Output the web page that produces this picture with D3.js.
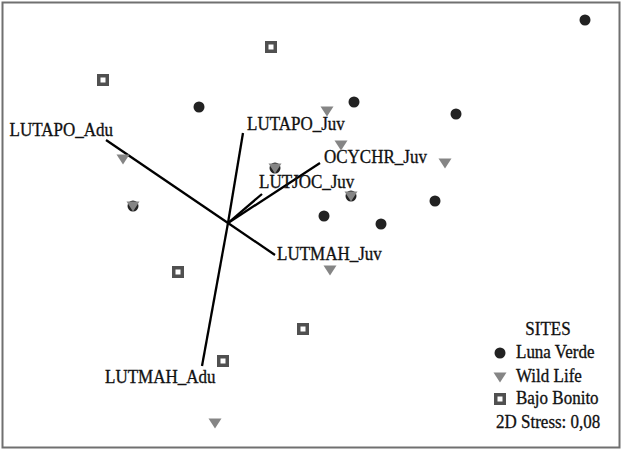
<!DOCTYPE html>
<html>
<head>
<meta charset="utf-8">
<script src="https://cdn.jsdelivr.net/npm/d3@7"></script>
<style>
  html, body { margin: 0; padding: 0; background: #fff; }
  svg { display: block; }
  text { font-family: "Liberation Serif", "Times New Roman", serif; fill: #111; stroke: #111; stroke-width: 0.3px; }
</style>
</head>
<body>
<svg id="chart" width="624" height="452"></svg>
<script>
// NMDS site scores (axis 1, axis 2)
const lunaVerdeX = [3.57, -0.29, 1.26, 2.28, 2.07, 1.53, 0.96, -0.95, 0.47, 1.23];
const lunaVerdeY = [2.03, 1.16, 1.21, 1.09, 0.22, -0.01, 0.07, 0.17, 0.55, 0.27];
const wildLifeX = [0.99, 1.13, 2.17, -1.05, 1.02, -0.13, -0.95, 0.47, 1.23];
const wildLifeY = [1.12, 0.78, 0.60, 0.64, -0.47, -2.00, 0.17, 0.55, 0.27];
const bajoBonitoX = [0.43, -1.25, -0.50, 0.75, -0.05];
const bajoBonitoY = [1.76, 1.43, -0.49, -1.06, -1.38];

// Species vectors (correlation biplot)
const vectorNames = ["LUTAPO_Adu", "LUTAPO_Juv", "OCYCHR_Juv", "LUTJOC_Juv", "LUTMAH_Juv", "LUTMAH_Adu"];
const vectorX = [-1.22, 0.15, 0.92, 0.34, 0.47, -0.26];
const vectorY = [0.83, 0.90, 0.60, 0.29, -0.32, -1.43];

const siteNames = ["Luna Verde", "Wild Life", "Bajo Bonito"];
const legendTitle = "SITES";
const stressLabel = "2D Stress: 0,08";

const svg = d3.select("#chart");
const W = 624, H = 452;

const x = d3.scaleLinear().domain([-2.26, 3.92]).range([2, 620]);
const y = d3.scaleLinear().domain([2.21, -2.25]).range([2, 448]);

// frame
svg.append("rect")
  .attr("x", 2.5).attr("y", 2.5).attr("width", 617).attr("height", 445)
  .attr("fill", "none").attr("stroke", "#707070").attr("stroke-width", 2);

const toPts = (xs, ys) => xs.map((v, i) => ({ x: v, y: ys[i] }));
const lv = toPts(lunaVerdeX, lunaVerdeY);
const wl = toPts(wildLifeX, wildLifeY);
const bb = toPts(bajoBonitoX, bajoBonitoY);

const circleSym = d3.symbol().type(d3.symbolCircle).size(95);
const triPath = "M-6.5,-4.5L6.5,-4.5L0,5.5Z";

function drawCircle(g) {
  g.append("path").attr("d", circleSym).attr("fill", "#222");
}
function drawTri(g) {
  g.append("path").attr("d", triPath).attr("fill", "#858585");
}
function drawSquare(g) {
  g.append("rect").attr("x", -6).attr("y", -6).attr("width", 12).attr("height", 12).attr("fill", "#505050");
  g.append("rect").attr("x", -2.5).attr("y", -2.5).attr("width", 5).attr("height", 5).attr("fill", "#fff");
}

// text helper: slightly tall serif like the reference
function label(parent, tx, ty, str, anchor) {
  return parent.append("text")
    .attr("transform", `translate(${tx},${ty}) scale(1,1.1)`)
    .attr("text-anchor", anchor || "start")
    .attr("font-size", 17)
    .text(str);
}

// vectors
const vecG = svg.append("g");
const origin = { x: x(0), y: y(0) };
vectorNames.forEach((name, i) => {
  vecG.append("line")
    .attr("x1", origin.x).attr("y1", origin.y)
    .attr("x2", x(vectorX[i])).attr("y2", y(vectorY[i]))
    .attr("stroke", "#000").attr("stroke-width", 2.3);
});

// label placement relative to vector tips
const labelOffsets = [
  { dx: 7, dy: -4, anchor: "end" },
  { dx: 4, dy: -3, anchor: "start" },
  { dx: 4, dy: 0, anchor: "start" },
  { dx: -3, dy: -6, anchor: "start" },
  { dx: 2, dy: 5, anchor: "start" },
  { dx: -97, dy: 17, anchor: "start" }
];
vectorNames.forEach((name, i) => {
  const o = labelOffsets[i];
  label(vecG, x(vectorX[i]) + o.dx, y(vectorY[i]) + o.dy, name, o.anchor);
});

// points
const ptsG = svg.append("g");
lv.forEach(d => drawCircle(ptsG.append("g").attr("transform", `translate(${x(d.x)},${y(d.y)})`)));
wl.forEach(d => drawTri(ptsG.append("g").attr("transform", `translate(${x(d.x)},${y(d.y)})`)));
bb.forEach(d => drawSquare(ptsG.append("g").attr("transform", `translate(${x(d.x)},${y(d.y)})`)));

// legend
const leg = svg.append("g");
label(leg, 548, 335, legendTitle, "middle");
const drawers = [drawCircle, drawTri, drawSquare];
const legY = [358, 382, 404];
siteNames.forEach((name, i) => {
  const g = leg.append("g").attr("transform", `translate(500,${legY[i] - 5})`);
  drawers[i](g);
  label(leg, 516, legY[i], name);
});
label(leg, 496, 428, stressLabel);
</script>
</body>
</html>
